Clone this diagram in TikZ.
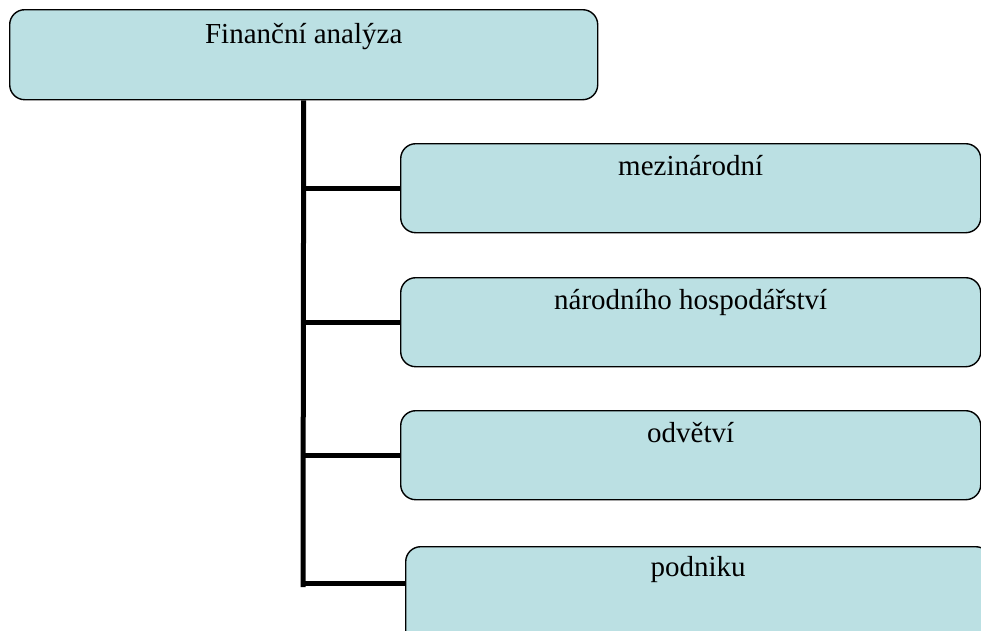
\documentclass[tikz,border=0pt]{standalone}
\usepackage{fontspec}
\setmainfont{Liberation Serif}
\definecolor{boxfill}{RGB}{187,224,227}
\begin{document}
\begin{tikzpicture}[x=1pt,y=-1pt,
  box/.style={draw=black, line width=1.4pt, fill=boxfill, rounded corners=15pt, anchor=north west, inner sep=0pt, minimum height=89pt},
  lbl/.style={anchor=base, inner sep=0pt, font=\fontsize{29}{34}\selectfont},
  conn/.style={draw=black, line width=5pt}]
\useasboundingbox (0,0) rectangle (981,630);
\clip (0,0) rectangle (981,630);
\node[box, minimum width=588pt, minimum height=90pt] (top) at (9,9) {};
\node[box, minimum width=580pt] (b1) at (400,143) {};
\node[box, minimum width=580pt] (b2) at (400,277) {};
\node[box, minimum width=580pt] (b3) at (400,410) {};
\node[box, minimum width=585pt, minimum height=100pt] (b4) at (405,546) {};
\node[lbl] (t0) at ([yshift=-34pt]top.north) {Finanční analýza};
\node[lbl] (t1) at ([yshift=-32pt]b1.north) {mezinárodní};
\node[lbl] (t2) at ([yshift=-32pt]b2.north) {národního hospodářství};
\node[lbl] (t3) at ([yshift=-32pt]b3.north) {odvětví};
\node[lbl] (t4) at ([yshift=-30pt]b4.north) {podniku};
\coordinate (trunkend) at (303,587);
\coordinate (j4) at (303,583);
\draw[conn] (top.south) -- (trunkend);
\draw[conn] (b1.west -| top.south) -- (b1.west);
\draw[conn] (b2.west -| top.south) -- (b2.west);
\draw[conn] (b3.west -| top.south) -- (b3.west);
\draw[conn] (j4) -- (j4 -| b4.west);
\end{tikzpicture}
\end{document}
